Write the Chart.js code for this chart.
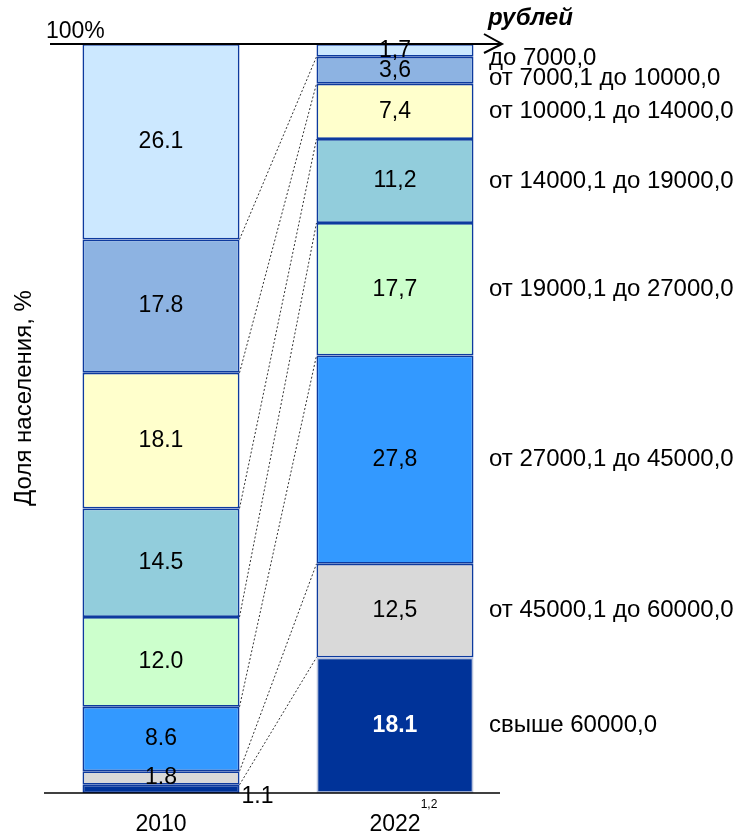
<!DOCTYPE html>
<html>
<head>
<meta charset="utf-8">
<script src="https://cdn.jsdelivr.net/npm/chart.js@4.4.1/dist/chart.umd.min.js"></script>
<style>
  html, body { margin: 0; padding: 0; background: #fff; }
  #wrap { width: 739px; height: 836px; position: relative; }
</style>
</head>
<body>
<div id="wrap"><canvas id="myChart"></canvas></div>
<script>
// income bands, listed from the bottom of the stack to the top
const years = ['2010', '2022'];
const incomeBands = [
    'свыше 60000,0',
    'от 45000,1 до 60000,0',
    'от 27000,1 до 45000,0',
    'от 19000,1 до 27000,0',
    'от 14000,1 до 19000,0',
    'от 10000,1 до 14000,0',
    'от 7000,1 до 10000,0',
    'до 7000,0'
];
const share2010 = [1.1, 1.8, 8.6, 12.0, 14.5, 18.1, 17.8, 26.1];
const share2022 = [18.1, 12.5, 27.8, 17.7, 11.2, 7.4, 3.6, 1.7];

const bandColors = ['#003399', '#D9D9D9', '#3399FF', '#CCFFCC', '#92CDDC', '#FFFFCC', '#8DB3E2', '#CCE8FF'];
const FONT = '"Liberation Sans", Arial, sans-serif';

function valueText(v, yearIdx, bandIdx) {
    let s = v.toFixed(1);
    if (yearIdx === 1 && bandIdx !== 0) s = s.replace('.', ',');
    return s;
}

// dotted connectors, segment values, right-hand band names, frame lines
const decorPlugin = {
    id: 'decor',
    beforeDatasetsDraw(chart) {
        const ctx = chart.ctx;
        const y = chart.scales.y;
        const b0 = chart.getDatasetMeta(0).data[0];
        const b1 = chart.getDatasetMeta(0).data[1];
        const x0 = b0.x + b0.width / 2;
        const x1 = b1.x - b1.width / 2;
        let c0 = 0, c1 = 0;
        ctx.save();
        ctx.strokeStyle = '#333';
        ctx.lineWidth = 1;
        ctx.setLineDash([2, 2]);
        for (let i = 0; i < incomeBands.length; i++) {
            c0 += share2010[i];
            c1 += share2022[i];
            if (i === incomeBands.length - 1) break;
            ctx.beginPath();
            ctx.moveTo(x0, y.getPixelForValue(c0));
            ctx.lineTo(x1, y.getPixelForValue(c1));
            ctx.stroke();
        }
        ctx.restore();
    },
    afterDatasetsDraw(chart) {
        const ctx = chart.ctx;
        const area = chart.chartArea;
        const y = chart.scales.y;
        ctx.save();
        ctx.textAlign = 'center';
        ctx.textBaseline = 'middle';
        chart.data.datasets.forEach(function (ds, i) {
            const meta = chart.getDatasetMeta(i);
            meta.data.forEach(function (bar, j) {
                const h = bar.base - bar.y;
                const txt = valueText(ds.data[j], j, i);
                let cx = bar.x, cy = (bar.y + bar.base) / 2;
                if (h < 10) {
                    cx = bar.x + bar.width / 2 + 18;
                    cy = bar.base + 4;
                }
                if (j === 1 && i === 0) {
                    ctx.fillStyle = '#fff';
                    ctx.font = 'bold 23px ' + FONT;
                } else {
                    ctx.fillStyle = '#000';
                    ctx.font = '23px ' + FONT;
                }
                ctx.fillText(txt, cx, cy);
            });
        });

        // band names beside the 2022 bar
        ctx.textAlign = 'left';
        ctx.fillStyle = '#000';
        ctx.font = '24px ' + FONT;
        let prev = area.top - 6;
        for (let i = incomeBands.length - 1; i >= 0; i--) {
            const bar = chart.getDatasetMeta(i).data[1];
            const cy = Math.max((bar.y + bar.base) / 2, prev + 20);
            ctx.fillText(incomeBands[i], 489, cy);
            prev = cy;
        }

        // top line with arrow, bottom line
        const yTop = y.getPixelForValue(100);
        const yBot = y.getPixelForValue(0);
        ctx.strokeStyle = '#000';
        ctx.lineWidth = 2;
        ctx.beginPath();
        ctx.moveTo(50, yTop);
        ctx.lineTo(502, yTop);
        ctx.moveTo(484, yTop - 10);
        ctx.lineTo(502, yTop);
        ctx.lineTo(484, yTop + 9);
        ctx.stroke();
        ctx.lineWidth = 1.5;
        ctx.beginPath();
        ctx.moveTo(44, yBot);
        ctx.lineTo(500, yBot);
        ctx.stroke();

        ctx.textBaseline = 'alphabetic';
        ctx.font = '23px ' + FONT;
        ctx.fillText('100%', 46, yTop - 6);
        ctx.font = 'bold italic 24px ' + FONT;
        ctx.fillText('рублей', 488, 25);
        ctx.font = '12px ' + FONT;
        ctx.textAlign = 'center';
        ctx.textBaseline = 'middle';
        ctx.fillText('1,2', 429, 805);

        ctx.translate(24, 398);
        ctx.rotate(-Math.PI / 2);
        ctx.font = '24px ' + FONT;
        ctx.fillText('Доля населения, %', 0, 0);
        ctx.restore();
    }
};

const datasets = incomeBands.map(function (name, i) {
    return {
        label: name,
        data: [share2010[i], share2022[i]],
        backgroundColor: bandColors[i],
        borderColor: i === 0 ? ['#0D3A9E', '#B8C2DC'] : '#0D3A9E',
        borderWidth: 1.75,
        borderSkipped: false
    };
});

const config = {
    type: 'bar',
    data: { labels: years, datasets: datasets },
    plugins: [decorPlugin],
    options: {
        responsive: true,
        maintainAspectRatio: false,
        animation: false,
        layout: { padding: { left: 44, right: 227, top: 44, bottom: 2 } },
        datasets: { bar: { barPercentage: 0.671, categoryPercentage: 1 } },
        plugins: { legend: { display: false }, tooltip: { enabled: false } },
        scales: {
            x: {
                stacked: true,
                grid: { display: false, drawTicks: false },
                border: { display: false },
                ticks: { color: '#000', font: { size: 23, family: FONT }, padding: 18 },
                afterFit: function (scale) { scale.height = 41; }
            },
            y: {
                stacked: true,
                display: false,
                min: 0,
                max: 100
            }
        }
    }
};

const myChart = new Chart(document.getElementById('myChart'), config);
</script>
</body>
</html>
